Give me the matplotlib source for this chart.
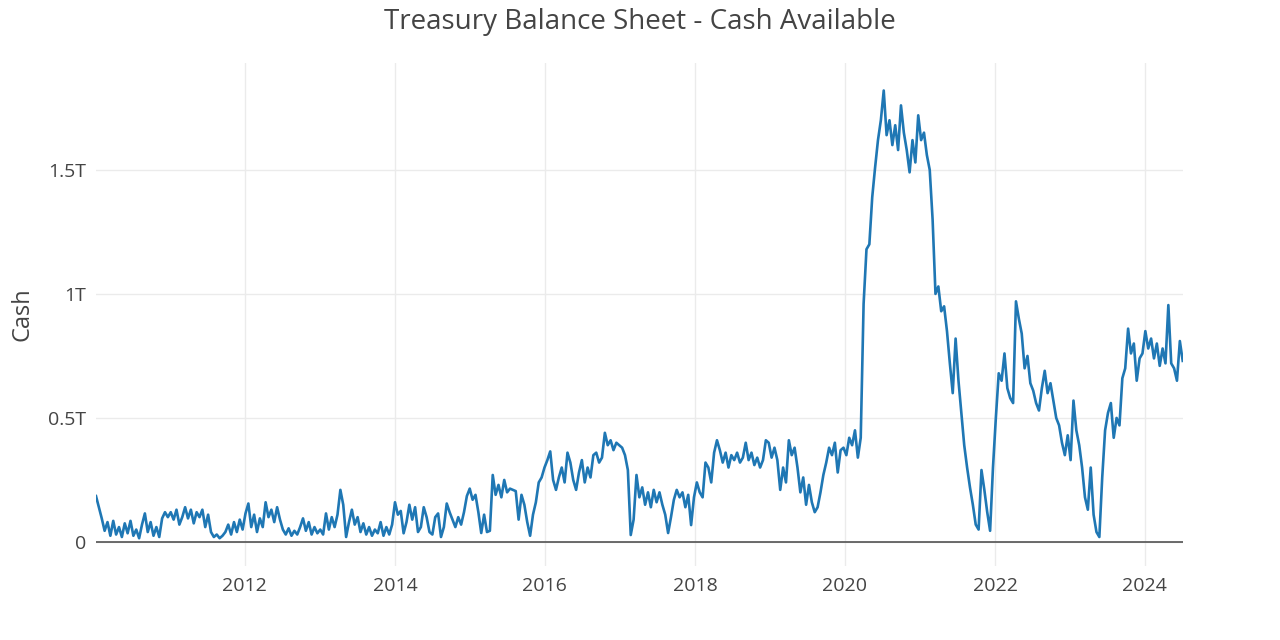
import numpy as np
import pandas as pd
import matplotlib
matplotlib.use("Agg")
import matplotlib.pyplot as plt
from matplotlib.ticker import FuncFormatter
import matplotlib.dates as mdates

# Treasury cash balance, billions of dollars, sampled every two weeks
cash_2010 = [185, 140, 95, 45, 80, 25, 85, 30, 60, 20, 75, 35, 85, 25, 50, 15, 70, 115, 40, 80, 25, 60, 20, 95, 120, 100]
cash_2011 = [120, 90, 130, 70, 100, 140, 95, 130, 75, 120, 100, 130, 60, 110, 40, 20, 30, 15, 25, 40, 70, 30, 80, 40, 90, 50]
cash_2012 = [115, 155, 60, 110, 40, 95, 60, 160, 100, 130, 80, 140, 90, 50, 30, 55, 25, 45, 30, 60, 95, 45, 80, 30, 60, 35]
cash_2013 = [50, 30, 115, 50, 100, 60, 110, 210, 150, 20, 80, 130, 70, 100, 40, 75, 30, 60, 25, 50, 35, 80, 25, 60, 30, 70]
cash_2014 = [160, 110, 125, 35, 80, 150, 90, 140, 40, 60, 140, 100, 40, 30, 100, 115, 20, 60, 155, 120, 90, 60, 100, 70, 120, 185]
cash_2015 = [215, 170, 190, 120, 36, 110, 40, 45, 270, 190, 230, 180, 250, 200, 215, 210, 205, 90, 190, 150, 80, 25, 110, 160, 240, 260]
cash_2016 = [300, 330, 365, 250, 210, 260, 300, 240, 360, 320, 250, 210, 280, 330, 240, 300, 260, 350, 360, 320, 340, 440, 390, 410, 370, 400]
cash_2017 = [390, 380, 350, 290, 28, 90, 270, 180, 220, 150, 200, 140, 210, 160, 200, 150, 110, 36, 100, 170, 210, 180, 200, 140, 190, 68]
cash_2018 = [180, 240, 200, 180, 320, 300, 240, 360, 410, 370, 320, 360, 300, 350, 330, 360, 320, 340, 400, 330, 360, 310, 340, 300, 330, 410]
cash_2019 = [400, 340, 380, 330, 210, 300, 240, 410, 350, 380, 300, 200, 260, 150, 230, 160, 120, 140, 200, 270, 320, 380, 350, 400, 280, 370]
cash_2020 = [380, 350, 420, 390, 450, 340, 420, 960, 1180, 1200, 1390, 1510, 1620, 1700, 1820, 1640, 1700, 1600, 1680, 1580, 1760, 1650, 1580, 1490, 1620, 1530]
cash_2021 = [1720, 1620, 1650, 1560, 1500, 1300, 1000, 1030, 930, 950, 850, 720, 600, 820, 650, 520, 390, 300, 220, 150, 70, 50, 290, 210, 120, 45]
cash_2022 = [300, 500, 680, 650, 760, 620, 580, 560, 970, 900, 840, 700, 750, 640, 610, 560, 530, 620, 690, 600, 640, 570, 500, 470, 400, 350]
cash_2023 = [430, 330, 570, 450, 390, 300, 180, 130, 300, 110, 40, 20, 260, 450, 520, 560, 420, 500, 470, 660, 700, 860, 760, 800, 650, 740]
cash_2024 = [760, 850, 780, 820, 740, 800, 710, 780, 720, 955, 720, 700, 650, 810, 730]

years = [cash_2010, cash_2011, cash_2012, cash_2013, cash_2014, cash_2015, cash_2016,
         cash_2017, cash_2018, cash_2019, cash_2020, cash_2021, cash_2022, cash_2023, cash_2024]
cash = np.concatenate(years) * 1e9
dates = pd.date_range("2010-01-06", periods=len(cash), freq="14D")

fig = plt.figure(figsize=(12.8, 6.4), dpi=100)
ax = fig.add_axes([0.075, 0.1156, 0.849, 0.786])

ax.plot(dates, cash, color="#1f77b4", linewidth=1.9, zorder=3)

ax.set_xlim(dates[0], dates[-1])
ax.set_ylim(-0.097e12, 1.931e12)

ax.set_yticks([0, 0.5e12, 1e12, 1.5e12])
ax.yaxis.set_major_formatter(FuncFormatter(lambda v, p: "0" if v == 0 else f"{v/1e12:g}T"))
ax.xaxis.set_major_locator(mdates.YearLocator(2))
ax.xaxis.set_major_formatter(mdates.DateFormatter("%Y"))

ax.grid(True, color="#ebebeb", linewidth=1.0, zorder=0)
ax.axhline(0, color="#444444", linewidth=1.1, zorder=2)
for s in ax.spines.values():
    s.set_visible(False)
ax.tick_params(length=0, colors="#444444", labelsize=14, pad=7)
ax.tick_params(axis="x", pad=8)

ax.set_ylabel("Cash", fontsize=17, color="#444444", family="Open Sans", labelpad=10)
for lbl in ax.get_xticklabels() + ax.get_yticklabels():
    lbl.set_family("Open Sans")

fig.text(0.5, 0.965, "Treasury Balance Sheet - Cash Available", ha="center", va="center",
         fontsize=20, color="#444444", family="Open Sans")

fig.savefig("out.png", dpi=100, facecolor="white")
